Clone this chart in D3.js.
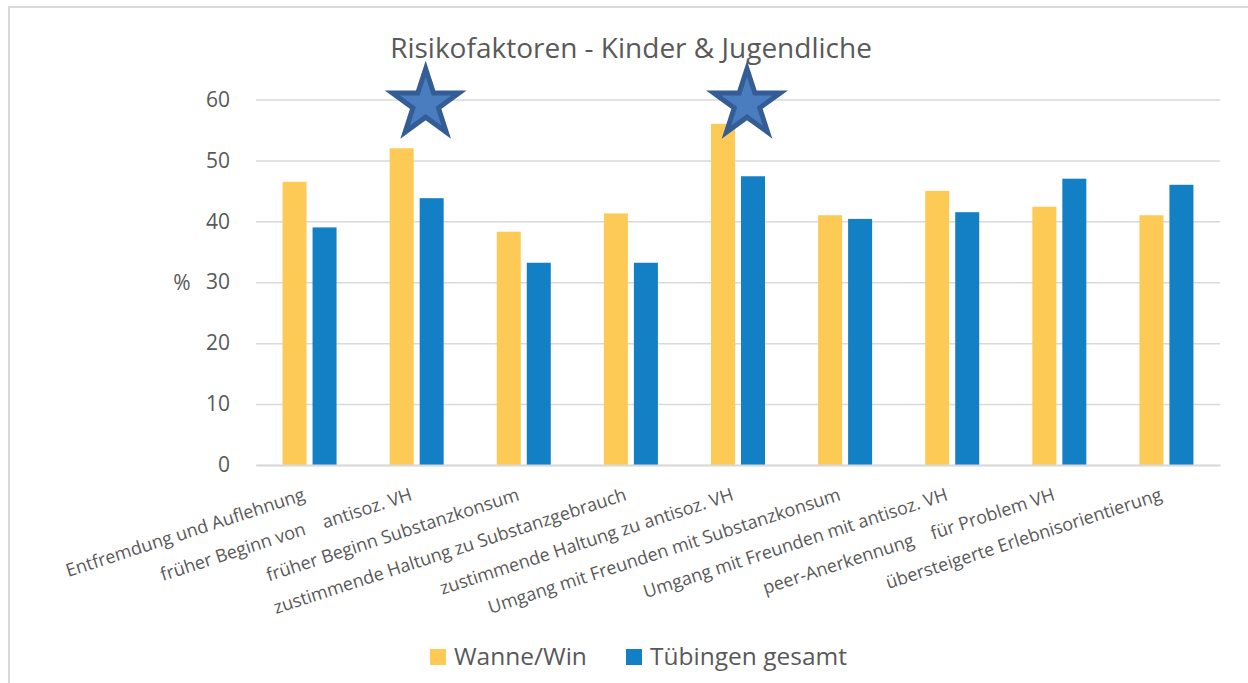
<!DOCTYPE html>
<html>
<head>
<meta charset="utf-8">
<script src="https://cdn.jsdelivr.net/npm/d3@7"></script>
<style>
    body { margin: 0; background: #fff; }
    svg { display: block; font-family: "Open Sans", sans-serif; }
    .x-label { white-space: pre; }
</style>
</head>
<body>
<div id="chart"></div>
<script>
// Data
const categories = [
    'Entfremdung und Auflehnung',
    'früher Beginn von    antisoz. VH',
    'früher Beginn Substanzkonsum',
    'zustimmende Haltung zu Substanzgebrauch',
    'zustimmende Haltung zu antisoz. VH',
    'Umgang mit Freunden mit Substanzkonsum',
    'Umgang mit Freunden mit antisoz. VH',
    'peer-Anerkennung    für Problem VH',
    'übersteigerte Erlebnisorientierung'
];
const seriesNames = ['Wanne/Win', 'Tübingen gesamt'];
const wanneValues = [46.5, 52.0, 38.3, 41.3, 56.0, 41.0, 45.0, 42.4, 41.0];
const tuebingenValues = [39.0, 43.8, 33.2, 33.2, 47.4, 40.4, 41.5, 47.0, 46.0];
const yTicks = [0, 10, 20, 30, 40, 50, 60];
const starredCategories = [categories[1], categories[4]];

const colors = { 'Wanne/Win': '#fdca55', 'Tübingen gesamt': '#137fc5' };
const textColor = '#595959';
const gridColor = '#d9d9d9';

const width = 1248, height = 683;

const svg = d3.select('#chart').append('svg')
    .attr('width', width)
    .attr('height', height);

// chart border
svg.append('rect')
    .attr('x', 9).attr('y', 7)
    .attr('width', width + 20).attr('height', height + 20)
    .attr('fill', 'none')
    .attr('stroke', gridColor)
    .attr('stroke-width', 2);

const x0 = d3.scaleBand().domain(categories).range([256, 1220]);
const groupWidth = 54;
const x1 = d3.scaleBand().domain(seriesNames).range([0, groupWidth]).paddingInner(0.2);
const y = d3.scaleLinear().domain([0, 60]).range([465, 99.5]);

// y axis + gridlines
const yAxis = svg.append('g')
    .attr('transform', 'translate(256,0)')
    .call(d3.axisLeft(y).tickValues(yTicks).tickSize(-(1220 - 256)).tickPadding(26));
yAxis.select('.domain').remove();
yAxis.selectAll('.tick line')
    .attr('stroke', gridColor)
    .attr('stroke-width', 1.5);
yAxis.selectAll('.tick text')
    .attr('fill', textColor)
    .attr('font-size', '21px')
    .attr('font-family', '"Open Sans", sans-serif');

svg.append('text')
    .attr('x', 182).attr('y', 283)
    .attr('dy', '0.35em')
    .attr('text-anchor', 'middle')
    .attr('fill', textColor)
    .attr('font-size', '21px')
    .text('%');

// bars
const rows = categories.map((c, i) => ({
    category: c,
    values: [
        { key: seriesNames[0], value: wanneValues[i] },
        { key: seriesNames[1], value: tuebingenValues[i] }
    ]
}));

const offset = (x0.bandwidth() - groupWidth) / 2;

svg.append('g')
    .selectAll('g')
    .data(rows)
    .enter().append('g')
    .attr('transform', d => `translate(${x0(d.category) + offset},0)`)
    .selectAll('rect')
    .data(d => d.values)
    .enter().append('rect')
    .attr('x', d => x1(d.key))
    .attr('width', x1.bandwidth())
    .attr('y', d => y(d.value))
    .attr('height', d => y(0) - y(d.value))
    .attr('fill', d => colors[d.key]);

// x axis
const xAxis = svg.append('g')
    .attr('transform', `translate(0,${y(0)})`)
    .call(d3.axisBottom(x0).tickSize(0).tickSizeOuter(0));
xAxis.select('.domain')
    .attr('stroke', gridColor)
    .attr('stroke-width', 2);
xAxis.selectAll('.tick text')
    .attr('class', 'x-label')
    .attr('fill', textColor)
    .attr('font-size', '18px')
    .attr('font-family', '"Open Sans", sans-serif')
    .attr('text-anchor', 'end')
    .attr('x', -14)
    .attr('y', 32)
    .attr('dy', 0)
    .attr('transform', 'rotate(-18)');

// stars
const star = d3.symbol().type(d3.symbolStar).size(35 * 35 / 0.8908130915292852);
svg.append('g')
    .selectAll('path')
    .data(starredCategories)
    .enter().append('path')
    .attr('d', star)
    .attr('transform', d => `translate(${x0(d) + x0.bandwidth() / 2 + 9},${y(59.3)})`)
    .attr('fill', '#4a7dbf')
    .attr('stroke', '#355d95')
    .attr('stroke-width', 5)
    .attr('stroke-linejoin', 'miter');

// title
svg.append('text')
    .attr('x', 631).attr('y', 58)
    .attr('text-anchor', 'middle')
    .attr('fill', textColor)
    .attr('font-size', '28px')
    .text('Risikofaktoren - Kinder & Jugendliche');

// legend
const legendX = [430, 626];
const legend = svg.append('g')
    .selectAll('g')
    .data(seriesNames)
    .enter().append('g')
    .attr('transform', (d, i) => `translate(${legendX[i]},649)`);
legend.append('rect')
    .attr('width', 16).attr('height', 16)
    .attr('fill', d => colors[d]);
legend.append('text')
    .attr('x', 24).attr('y', 16)
    .attr('fill', textColor)
    .attr('font-size', '24.5px')
    .text(d => d);
</script>
</body>
</html>
